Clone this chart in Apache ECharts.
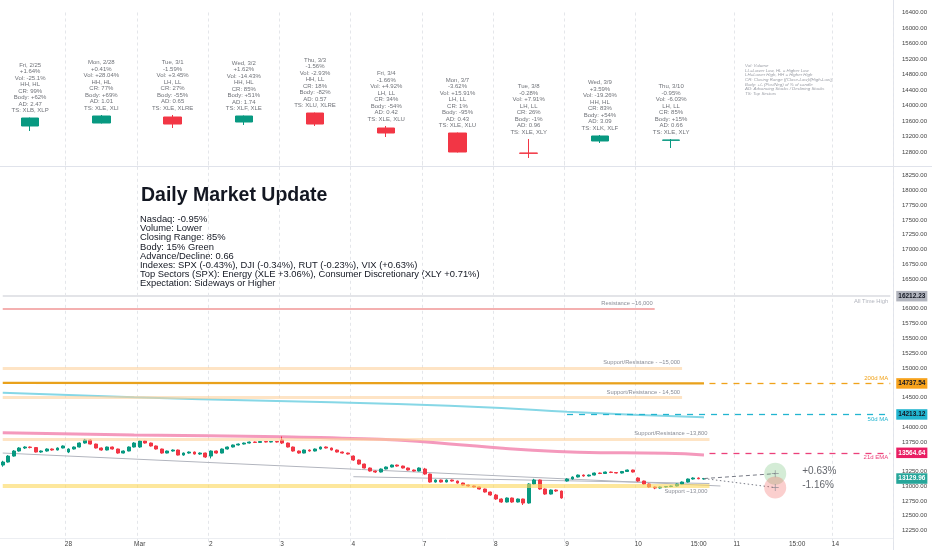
<!DOCTYPE html>
<html>
<head>
<meta charset="utf-8">
<title>Daily Market Update</title>
<script src="https://cdn.jsdelivr.net/npm/echarts@6/dist/echarts.min.js"></script>
<style>
  html, body { margin: 0; padding: 0; background: #fff; }
  #main { width: 932px; height: 550px; }
</style>
</head>
<body>
<div id="main"></div>
<script type="text/javascript">
// ---- time axis ----
var sessionTimes = ['09:30', '10:00', '10:30', '11:00', '11:30', '12:00', '12:30',
                    '13:00', '13:30', '14:00', '14:30', '15:00', '15:30'];
var afterTimes = ['16:00', '16:30', '17:00', '17:30', '18:00'];
var tradingDays = ['02-25', '02-28', '03-01', '03-02', '03-03', '03-04', '03-07', '03-08', '03-09', '03-10'];
var futureDays = ['03-11', '03-14'];
var timeLabels = {
    '02-28 09:30': '28', '03-01 09:30': 'Mar', '03-02 09:30': '2', '03-03 09:30': '3',
    '03-04 09:30': '4', '03-07 09:30': '7', '03-08 09:30': '8', '03-09 09:30': '9',
    '03-10 09:30': '10', '03-10 15:00': '15:00', '03-11 09:30': '11', '03-11 15:00': '15:00',
    '03-14 09:30': '14'
};

// ---- 30 min candles: [open, close, low, high] ----
var bars30m = [
    // 2/25 (from 10:00)
    [13358, 13409, 13330, 13430], [13409, 13510, 13400, 13525], [13510, 13595, 13500, 13610],
    [13595, 13646, 13585, 13660], [13646, 13663, 13630, 13675], [13663, 13654, 13640, 13672],
    [13654, 13578, 13570, 13660], [13578, 13595, 13565, 13605], [13595, 13629, 13585, 13640],
    [13629, 13612, 13600, 13638], [13612, 13646, 13605, 13655], [13646, 13680, 13640, 13690],
    // 2/28
    [13578, 13629, 13560, 13640], [13629, 13663, 13620, 13672], [13663, 13730, 13655, 13740],
    [13730, 13781, 13720, 13800], [13781, 13713, 13705, 13790], [13713, 13646, 13638, 13720],
    [13646, 13612, 13600, 13655], [13612, 13663, 13605, 13670], [13663, 13629, 13620, 13670],
    [13629, 13561, 13550, 13635], [13561, 13595, 13555, 13605], [13595, 13663, 13590, 13672],
    [13663, 13730, 13655, 13745],
    // 3/1
    [13663, 13764, 13650, 13775], [13764, 13730, 13720, 13772], [13730, 13680, 13670, 13738],
    [13680, 13629, 13620, 13688], [13629, 13561, 13550, 13635], [13561, 13595, 13555, 13603],
    [13595, 13612, 13585, 13622], [13612, 13527, 13520, 13620], [13527, 13561, 13515, 13570],
    [13561, 13578, 13550, 13588], [13578, 13544, 13535, 13586], [13544, 13561, 13530, 13572],
    [13561, 13494, 13480, 13568],
    // 3/2
    [13510, 13595, 13470, 13605], [13595, 13561, 13550, 13603], [13561, 13629, 13555, 13638],
    [13629, 13663, 13620, 13670], [13663, 13697, 13655, 13705], [13697, 13713, 13688, 13722],
    [13713, 13730, 13705, 13738], [13730, 13747, 13722, 13755], [13747, 13740, 13730, 13756],
    [13740, 13756, 13735, 13762], [13756, 13747, 13740, 13762], [13747, 13756, 13740, 13765],
    [13756, 13747, 13738, 13762],
    // 3/3
    [13781, 13730, 13713, 13840], [13730, 13663, 13655, 13738], [13663, 13595, 13585, 13670],
    [13595, 13561, 13550, 13603], [13561, 13612, 13555, 13620], [13612, 13595, 13585, 13622],
    [13595, 13629, 13588, 13638], [13629, 13663, 13620, 13670], [13663, 13646, 13638, 13672],
    [13646, 13612, 13605, 13652], [13612, 13578, 13570, 13620], [13578, 13561, 13552, 13586],
    [13561, 13544, 13535, 13568],
    // 3/4
    [13510, 13443, 13430, 13520], [13443, 13375, 13365, 13450], [13375, 13308, 13300, 13382],
    [13308, 13257, 13248, 13315], [13257, 13240, 13225, 13265], [13240, 13291, 13232, 13300],
    [13291, 13325, 13285, 13333], [13325, 13358, 13318, 13366], [13358, 13341, 13330, 13366],
    [13341, 13308, 13300, 13348], [13308, 13274, 13265, 13315], [13274, 13257, 13248, 13282],
    [13257, 13308, 13250, 13318],
    // 3/7
    [13291, 13206, 13195, 13310], [13206, 13071, 13060, 13212], [13071, 13105, 13062, 13115],
    [13105, 13071, 13062, 13112], [13071, 13105, 13065, 13113], [13105, 13088, 13078, 13112],
    [13088, 13054, 13045, 13095], [13054, 13020, 13012, 13060], [13020, 13004, 12995, 13028],
    [13004, 12987, 12978, 13012], [12987, 12953, 12945, 12992], [12953, 12902, 12893, 12960],
    [12902, 12852, 12840, 12910],
    // 3/8
    [12852, 12784, 12770, 12870], [12784, 12733, 12720, 12795], [12733, 12801, 12725, 12810],
    [12801, 12733, 12720, 12808], [12733, 12784, 12725, 12792], [12784, 12716, 12683, 12790],
    [12716, 13037, 12705, 13050], [13037, 13105, 13025, 13125], [13105, 12953, 12940, 13112],
    [12953, 12868, 12855, 12962], [12868, 12936, 12860, 12945], [12936, 12919, 12905, 12945],
    [12919, 12801, 12790, 12925],
    // 3/9
    [13088, 13122, 13078, 13135], [13122, 13156, 13112, 13165], [13156, 13189, 13148, 13198],
    [13189, 13173, 13162, 13198], [13173, 13189, 13165, 13198], [13189, 13223, 13182, 13232],
    [13223, 13215, 13205, 13232], [13215, 13240, 13208, 13248], [13240, 13232, 13222, 13248],
    [13232, 13223, 13215, 13240], [13223, 13249, 13215, 13258], [13249, 13274, 13240, 13282],
    [13274, 13240, 13232, 13280],
    // 3/10
    [13139, 13088, 13075, 13150], [13088, 13037, 13025, 13095], [13037, 12987, 12975, 13045],
    [12987, 12970, 12950, 12995], [12970, 12987, 12960, 12995], [12987, 12995, 12978, 13004],
    [12995, 13004, 12985, 13012], [13004, 13037, 12995, 13045], [13037, 13071, 13030, 13080],
    [13071, 13122, 13062, 13130], [13122, 13139, 13112, 13150], [13139, 13126, 13118, 13148],
    [13122, 13129.96, 13112, 13140]
];

// ---- daily candles (upper pane): [open, close, low, high] ----
var dailyBars = [
    [13471, 13677, 13342, 13690], [13548, 13729, 13535, 13755], [13703, 13522, 13419, 13755],
    [13574, 13729, 13497, 13742], [13806, 13522, 13471, 13819], [13419, 13290, 13187, 13471],
    [13290, 12800, 12787, 13303], [12774, 12766, 12645, 13135], [13084, 13213, 13032, 13239],
    [13102, 13110, 12903, 13135]
];
var dayTitles = ['Fri, 2/25', 'Mon, 2/28', 'Tue, 3/1', 'Wed, 3/2', 'Thu, 3/3', 'Fri, 3/4', 'Mon, 3/7', 'Tue, 3/8', 'Wed, 3/9', 'Thu, 3/10'];
var dayChange = ['+1.64%', '+0.41%', '-1.59%', '+1.62%', '-1.56%', '-1.66%', '-3.62%', '-0.28%', '+3.59%', '-0.95%'];
var dayVolume = ['-25.1%', '+28.04%', '+3.45%', '-14.43%', '-2.93%', '+4.92%', '+15.91%', '+7.91%', '-19.26%', '-6.03%'];
var daySwing = ['HH, HL', 'HH, HL', 'LH, LL', 'HH, HL', 'HH, LL', 'LH, LL', 'LH, LL', 'LH, LL', 'HH, HL', 'LH, LL'];
var dayRange = ['99%', '77%', '27%', '85%', '18%', '34%', '1%', '26%', '83%', '85%'];
var dayBody = ['+62%', '+69%', '-55%', '+51%', '-82%', '-54%', '-95%', '-1%', '+54%', '+15%'];
var dayBreadth = ['2.47', '1.01', '0.65', '1.74', '0.57', '0.42', '0.43', '0.96', '3.09', '0.66'];
var daySectors = ['XLB, XLP', 'XLE, XLI', 'XLE, XLRE', 'XLF, XLE', 'XLU, XLRE', 'XLE, XLU', 'XLE, XLU', 'XLE, XLY', 'XLK, XLF', 'XLE, XLY'];

// ---- moving averages: [time, value] ----
var ma200 = [['02-25 10:00', 14746], ['03-04 09:30', 14742], ['03-10 15:30', 14738]];
var ma50 = [['02-25 10:00', 14580], ['02-28 15:30', 14503], ['03-02 14:30', 14445], ['03-04 13:30', 14389],
            ['03-08 10:00', 14322], ['03-09 09:30', 14259], ['03-09 15:30', 14209], ['03-10 15:30', 14165]];
var ema21 = [['02-25 10:00', 13904], ['02-28 15:30', 13865], ['03-03 09:30', 13837], ['03-03 15:00', 13810],
             ['03-04 13:30', 13781], ['03-07 13:00', 13697], ['03-08 12:30', 13612], ['03-09 10:30', 13573],
             ['03-10 12:00', 13556], ['03-10 15:30', 13528]];
var priceMarks = { ath: 16212.23, ma200: 14737.54, ma50: 14213.12, ema21: 13564.64 };

// ---- drawings ----
var levelValues = [16000, 15000, 14500, 13800, 13000];
var levelTexts = ['Resistance ~16,000', 'Support/Resistance - ~15,000', 'Support/Resistance - 14,500',
                  'Support/Resistance ~13,800', 'Support ~13,000'];
var levelEnds = ['03-10 11:00', '03-10 13:30', '03-10 13:30', '03-10 16:00', '03-10 16:00'];
var trendA = [['02-25 10:00', 13561], ['03-10 17:00', 13004]];
var trendB = [['03-04 09:30', 13161], ['03-10 16:00', 13046]];
var projFrom = ['03-10 15:30', 13129.96];
var projAt = '03-11 13:00';
var projUp = 13212.7, projDown = 12977.7;
var projTexts = ['+0.63%', '-1.16%'];

var summaryLines = [
    'Nasdaq: -0.95%',
    'Volume: Lower',
    'Closing Range: 85%',
    'Body: 15% Green',
    'Advance/Decline: 0.66',
    'Indexes: SPX (-0.43%), DJI (-0.34%), RUT (-0.23%), VIX (+0.63%)',
    'Top Sectors (SPX): Energy (XLE +3.06%), Consumer Discretionary (XLY +0.71%)',
    'Expectation: Sideways or Higher'
];
var keyLines = [
    'Vol: Volume',
    'LL=Lower Low, HL = Higher Low',
    'LH=Lower High, HH = Higher High',
    'CR: Closing Range ((Close-Low)/(High-Low))',
    'Body: +/- (Pos/Neg) of % of candle',
    'AD: Advancing Stocks / Declining Stocks',
    'TS: Top Sectors'
];

// ---- build categories ----
var categories = [];
tradingDays.forEach(function (d, i) {
    sessionTimes.forEach(function (t, j) {
        if (i === 0 && j === 0) return;
        categories.push(d + ' ' + t);
    });
});
afterTimes.forEach(function (t) { categories.push('03-10 ' + t); });
futureDays.forEach(function (d, i) {
    var times = sessionTimes.concat(afterTimes);
    if (i === futureDays.length - 1) times = times.slice(0, 11);
    times.forEach(function (t) { categories.push(d + ' ' + t); });
});
var lastCat = categories[categories.length - 1];

var topCandles = categories.map(function () { return '-'; });
var noteAnchors = [];
tradingDays.forEach(function (d, i) {
    var k = categories.indexOf(d + ' 12:30');
    topCandles[k] = dailyBars[i];
    noteAnchors.push([d + ' 12:30', dailyBars[i][3]]);
});

function isDayStart(index) {
    var c = categories[index];
    return !!c && c.slice(-5) === '09:30' && index > 0;
}

var UP = '#089981', DOWN = '#f23645';
var FONT = 'Liberation Sans, Arial, sans-serif';

// horizontal drawings
var bandStyles = [
    { color: 'rgba(240,150,150,0.75)', width: 2, pos: 'insideEndTop' },
    { color: 'rgba(253,205,150,0.55)', width: 3, pos: 'insideEndTop' },
    { color: 'rgba(253,205,150,0.55)', width: 3, pos: 'insideEndTop' },
    { color: 'rgba(253,205,150,0.55)', width: 3, pos: 'insideEndTop' },
    { color: 'rgba(252,215,90,0.6)', width: 4, pos: 'insideEndBottom' }
];
var levelMarks = levelValues.map(function (v, i) {
    var s = bandStyles[i];
    return [{
        coord: ['02-25 10:00', v],
        lineStyle: { color: s.color, width: s.width, type: 'solid' },
        label: { show: true, position: s.pos, formatter: levelTexts[i], color: '#8a8d96', fontSize: 5.8, distance: 2 }
    }, { coord: [levelEnds[i], v] }];
});

function priceBox(value, bg, fg) {
    return [{
        coord: ['03-14 14:00', value],
        lineStyle: { color: 'rgba(0,0,0,0)', width: 1 },
        label: {
            show: true, position: 'end', distance: 6, formatter: value.toFixed(2),
            backgroundColor: bg, color: fg, fontSize: 6.5, fontWeight: 'bold', padding: [2, 2, 1.5, 2]
        }
    }, { coord: [lastCat, value] }];
}
function dashedRay(value, startCat, color, text, pos) {
    return [{
        coord: [startCat, value],
        lineStyle: { color: color, width: 1.3, type: [6, 6] },
        label: { show: true, position: pos, formatter: text, color: color, fontSize: 6, distance: 2 }
    }, { coord: [lastCat, value] }];
}

var option = {
    animation: false,
    textStyle: { fontFamily: FONT },
    grid: [
        { left: 0, right: 39, top: 12.5, height: 155 },
        { left: 0, right: 39, top: 160.8, height: 384.6 }
    ],
    xAxis: [
        {
            type: 'category', gridIndex: 0, data: categories,
            axisLine: { show: false }, axisTick: { show: false }, axisLabel: { show: false },
            splitLine: { show: true, interval: isDayStart, lineStyle: { color: '#e4e6ea', type: [3, 3] } }
        },
        {
            type: 'category', gridIndex: 1, data: categories,
            axisLine: { show: false }, axisTick: { show: false },
            axisLabel: {
                fontSize: 6.5, color: '#444', margin: -5,
                interval: function (index, value) { return timeLabels[value] !== undefined; },
                formatter: function (value) { return timeLabels[value] || ''; }
            },
            splitLine: { show: true, interval: isDayStart, lineStyle: { color: '#e4e6ea', type: [3, 3] } }
        }
    ],
    yAxis: [
        {
            type: 'value', gridIndex: 0, position: 'right', min: 12400, max: 16400, interval: 400,
            splitLine: { show: false }, axisLine: { show: false }, axisTick: { show: false },
            axisLabel: { fontSize: 6, color: '#444', margin: 9,
                formatter: function (v) { return v === 12400 ? '' : v.toFixed(2); } }
        },
        {
            type: 'value', gridIndex: 1, position: 'right', min: 12000, max: 18500, interval: 250,
            splitLine: { show: false }, axisLine: { show: false }, axisTick: { show: false },
            axisLabel: { fontSize: 6, color: '#444', margin: 9,
                formatter: function (v) {
                    if ([12000, 18500, 16250, 14750, 14250, 13500].indexOf(v) >= 0) return '';
                    return v.toFixed(2);
                } }
        }
    ],
    graphic: [
        { type: 'line', silent: true, shape: { x1: 893.5, y1: 0, x2: 893.5, y2: 550 }, style: { stroke: '#e0e3eb', lineWidth: 1 } },
        { type: 'line', silent: true, shape: { x1: 0, y1: 166.5, x2: 932, y2: 166.5 }, style: { stroke: '#e0e3eb', lineWidth: 1 } },
        { type: 'line', silent: true, shape: { x1: 0, y1: 538.5, x2: 893, y2: 538.5 }, style: { stroke: '#eceef2', lineWidth: 1 } },
        { type: 'text', silent: true, left: 141, top: 186,
          style: { text: 'Daily Market Update', font: 'bold 19.5px ' + FONT, fill: '#131722' } },
        { type: 'text', silent: true, left: 140, top: 215,
          style: { text: summaryLines.join('\n'), font: '9.4px ' + FONT, lineHeight: 9.15, fill: '#131722' } },
        { type: 'text', silent: true, left: 745, top: 63.5,
          style: { text: keyLines.join('\n'), font: 'italic 4.4px ' + FONT, lineHeight: 4.67, fill: '#9a9da5' } }
    ],
    series: [
        // daily candles
        {
            type: 'candlestick', xAxisIndex: 0, yAxisIndex: 0, data: topCandles, barWidth: 18,
            itemStyle: { color: UP, color0: DOWN, borderColor: UP, borderColor0: DOWN, borderWidth: 1 }
        },
        {
            type: 'scatter', xAxisIndex: 0, yAxisIndex: 0, data: noteAnchors, symbolSize: 0, silent: true,
            label: {
                show: true, position: 'top', distance: 3.5, fontSize: 6, lineHeight: 6.5, color: '#4a4d55',
                formatter: function (p) {
                    var i = p.dataIndex;
                    return [dayTitles[i], dayChange[i], 'Vol: ' + dayVolume[i], daySwing[i], 'CR: ' + dayRange[i],
                            'Body: ' + dayBody[i], 'AD: ' + dayBreadth[i], 'TS: ' + daySectors[i]].join('\n');
                }
            }
        },
        // horizontal drawings
        {
            type: 'line', xAxisIndex: 1, yAxisIndex: 1, data: [], z: 1, clip: false,
            markLine: {
                symbol: ['none', 'none'], silent: true, animation: false,
                data: [[{ coord: [categories[0], priceMarks.ath], lineStyle: { color: '#e3e4e8', width: 2, type: 'solid' },
                          label: { show: true, position: 'insideEndBottom', formatter: 'All Time High', color: '#b2b5be', fontSize: 5.8, distance: 2 } },
                        { coord: [lastCat, priceMarks.ath] }]].concat(levelMarks)
            }
        },
        // moving averages
        {
            type: 'line', xAxisIndex: 1, yAxisIndex: 1, data: ma200, smooth: true, symbol: 'none', z: 2,
            lineStyle: { color: '#e9a11b', width: 2.2 }
        },
        {
            type: 'line', xAxisIndex: 1, yAxisIndex: 1, data: ma50, smooth: true, symbol: 'none', z: 2,
            lineStyle: { color: '#86d7e6', width: 2 }
        },
        {
            type: 'line', xAxisIndex: 1, yAxisIndex: 1, data: ema21, smooth: true, symbol: 'none', z: 2,
            lineStyle: { color: 'rgba(240,110,160,0.7)', width: 3 }
        },
        // trend lines
        {
            type: 'line', xAxisIndex: 1, yAxisIndex: 1, data: trendA, symbol: 'none', z: 2,
            lineStyle: { color: '#b2b5be', width: 1 }
        },
        {
            type: 'line', xAxisIndex: 1, yAxisIndex: 1, data: trendB, symbol: 'none', z: 2,
            lineStyle: { color: '#b2b5be', width: 1 }
        },
        // 30 min candles
        {
            type: 'candlestick', xAxisIndex: 1, yAxisIndex: 1, data: bars30m, barWidth: 3.4, z: 3,
            itemStyle: { color: UP, color0: DOWN, borderColor: UP, borderColor0: DOWN, borderWidth: 1 }
        },
        // projections
        {
            type: 'line', xAxisIndex: 1, yAxisIndex: 1, data: [projFrom, [projAt, projUp]], symbol: 'none', z: 4,
            lineStyle: { color: '#787b86', width: 1, type: [4, 3] }
        },
        {
            type: 'line', xAxisIndex: 1, yAxisIndex: 1, data: [projFrom, [projAt, projDown]], symbol: 'none', z: 4,
            lineStyle: { color: '#787b86', width: 1, type: [1.5, 2.5] }
        },
        {
            type: 'scatter', xAxisIndex: 1, yAxisIndex: 1, symbolSize: 22, z: 4, silent: true,
            data: [
                { value: [projAt, projUp], itemStyle: { color: 'rgba(102,187,106,0.35)' }, label: { formatter: projTexts[0] } },
                { value: [projAt, projDown], itemStyle: { color: 'rgba(239,83,80,0.35)' }, label: { formatter: projTexts[1] } }
            ],
            label: { show: true, position: 'right', distance: 16, offset: [0, -2.5], fontSize: 10, color: '#3a3d45' }
        },
        {
            type: 'scatter', xAxisIndex: 1, yAxisIndex: 1, z: 5, silent: true, symbolSize: 7,
            symbol: 'path://M0 4.5H10V5.5H0ZM4.5 0H5.5V10H4.5Z',
            itemStyle: { color: '#787b86' },
            data: [[projAt, projUp], [projAt, projDown]]
        },
        // price lines and axis boxes
        {
            type: 'line', xAxisIndex: 1, yAxisIndex: 1, data: [], z: 6, clip: false,
            markLine: {
                symbol: ['none', 'none'], silent: true, animation: false,
                data: [
                    dashedRay(priceMarks.ma200, '03-10 16:00', '#f0a21a', '200d MA', 'insideEndTop'),
                    dashedRay(priceMarks.ma50, '03-09 09:30', '#22b5d0', '50d MA', 'insideEndBottom'),
                    dashedRay(priceMarks.ema21, '03-10 16:00', '#ec407a', '21d EMA', 'insideEndBottom'),
                    priceBox(priceMarks.ath, '#b2b5be', '#131722'),
                    priceBox(priceMarks.ma200, '#f7a21b', '#131722'),
                    priceBox(priceMarks.ma50, '#22b5d0', '#131722'),
                    priceBox(priceMarks.ema21, '#e91e63', '#ffffff'),
                    priceBox(bars30m[bars30m.length - 1][1], '#26a69a', '#ffffff')
                ]
            }
        }
    ]
};

var myChart = echarts.init(document.getElementById('main'));
myChart.setOption(option);
</script>
</body>
</html>
